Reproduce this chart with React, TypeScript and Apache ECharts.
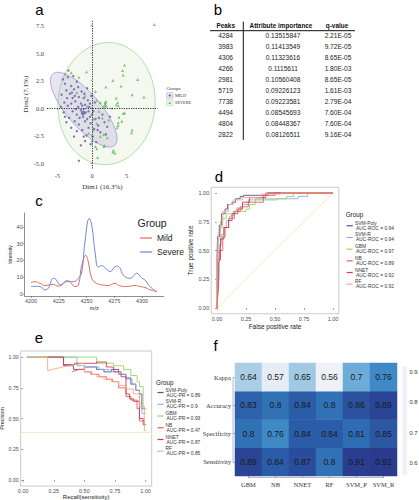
import React, { useEffect, useRef } from 'react';
import * as echarts from 'echarts';

// ---------------- Panel a : PCA ----------------
const mildPoints: number[][] = [
  [-4.2, 2.6], [-3.9, 2.2], [-3.5, 2.8], [-3.0, 2.0], [-3.7, 1.6], [-4.4, 1.2], [-3.2, 1.3], [-2.6, 1.7], [-2.2, 2.4], [-2.8, 0.9],
  [-4.0, 0.5], [-3.5, 0.2], [-3.0, 0.4], [-2.4, 0.6], [-1.9, 1.0], [-1.5, 1.5], [-1.2, 0.9], [-2.0, 0.1], [-1.6, -0.2], [-1.0, 0.3],
  [-0.6, 0.7], [-0.4, 0.1], [-0.9, -0.4], [-1.3, -0.8], [-2.2, -0.6], [-2.8, -0.3], [-3.3, -0.9], [-4.1, -0.4], [-3.7, -1.3], [-2.5, -1.2],
  [-1.9, -1.5], [-1.0, -1.2], [-0.3, -0.8], [0.2, -0.3], [0.5, -1.0], [0.9, -1.6], [0.3, -1.9], [-0.5, -1.8], [-1.4, -2.0], [-2.2, -2.1],
  [-3.0, -1.8], [-0.8, -2.5], [0.1, -2.6], [1.2, -2.2], [1.8, -1.3], [1.5, -0.6], [2.0, -2.4], [0.6, -3.1], [-0.2, -3.3], [-1.0, -3.0],
  [0.4, 0.5], [-0.1, 1.1], [-0.7, 1.8], [-2.7, 2.9], [-3.4, 3.4], [-1.6, 0.4], [-2.3, -0.1], [-1.2, -0.1], [-0.5, -0.3], [-1.8, -0.9],
  [-2.9, 1.4], [-3.9, -0.8], [-4.5, 0.1], [-2.0, 1.9], [-0.2, -1.4], [1.0, -0.9], [2.6, -0.8], [2.2, -1.7], [-1.9, -4.8], [-1.2, -2.6],
  [-2.6, -2.6], [-1.6, -3.4], [0.8, -2.0], [-0.3, 0.4], [-1.1, 1.3], [-3.6, 0.9], [-2.5, 1.1], [-1.4, 0.2], [0.0, -0.6], [-0.7, -1.0],
];
const severePoints: number[][] = [
  [9.0, 7.6], [4.7, 3.9], [4.4, 3.4], [4.5, 3.0], [3.0, 2.5], [6.6, 2.6], [4.2, 2.0], [5.8, 1.2], [7.5, 1.0], [3.7, 0.5],
  [3.5, 0.3], [4.7, -0.45], [3.9, -0.85], [4.3, -1.2], [3.75, -1.6], [5.8, -2.0], [3.1, -3.85], [1.7, -3.5], [0.8, -4.5], [-0.8, 3.3],
  [-3.0, 3.2], [-1.9, 2.8], [0.7, 0.7], [1.2, 0.5], [1.9, 0.5], [1.0, -0.3], [1.5, -0.9], [2.4, -1.1], [1.7, -2.4], [2.2, -2.7],
  [0.5, -3.5], [-1.0, 1.1], [-2.2, 1.4], [-0.7, 0.15], [0.2, -1.0], [2.9, 0.0], [3.5, 0.9], [0.7, -1.4], [0.2, -2.0], [-0.5, -2.3],
  [0.0, -3.0], [3.0, -4.0], [5.7, -2.25], [2.0, 1.9], [0.5, 1.5], [2.0, 0.6], [1.2, -2.6], [1.8, -3.4], [0.7, -3.7], [3.3, -4.1],
  [-3.9, 3.1], [3.8, 0.2], [4.5, -0.5], [3.8, -1.35], [3.6, -1.8],
];
const mildCentroid = [-1.3, -0.45];
const severeCentroid = [1.9, 0.27];
// ellipse: centre x, centre y, conjugate semi-axis a (x, y), conjugate semi-axis b (x, y)
const mildEllipse = [-1.2, -0.15, 4.45, -3.25, 1.82, 0.99];
const severeEllipse = [2.1, 0.4, 0.5, 5.55, 7.0, -0.2];
const pcaXTicks = [-5, 0, 5];
const pcaYTicks = [-5, -2.5, 0, 2.5, 5, 7.5];

// ---------------- Panel b : table ----------------
const tableHeader = ['Peaks', 'Attribute importance', 'q-value'];
const peaks = ['4284', '3983', '4306', '4266', '2981', '5719', '7738', '4494', '4804', '2822'];
const importance = ['0.13515847', '0.11413549', '0.11323616', '0.1115611', '0.10560408', '0.09226123', '0.09223581', '0.08545693', '0.08448367', '0.08126511'];
const qValues = ['2.21E-05', '9.72E-05', '8.65E-05', '1.80E-03', '8.65E-05', '1.61E-03', '2.79E-04', '7.60E-04', '7.60E-04', '9.16E-04'];

// ---------------- Panel c : spectra ----------------
const mzSevere: number[][] = [
  [4200, 4.4], [4203.6, 4.5], [4208, 4.4], [4212.6, 2.4], [4215.6, 3.4], [4220, 9.3], [4223, 8.3], [4226, 5.3], [4229, 6.1],
  [4232, 7.3], [4238, 7.3], [4242.6, 9.3], [4245.7, 13], [4248.6, 31], [4252.5, 45], [4254.7, 41], [4257.7, 25], [4260.6, 16],
  [4263.7, 16.8], [4266.7, 15.6], [4271, 13.3], [4277, 16.6], [4280, 15.6], [4283, 11.3], [4289, 9.3], [4292, 10.3],
  [4295, 12.3], [4300, 9.3], [4302.7, 8.3], [4307, 4.5], [4313.5, 1.2],
];
const mzMild: number[][] = [
  [4200, 6.7], [4203.6, 7.3], [4208, 6.3], [4212.6, 5.0], [4220, 5.7], [4224.6, 4.6], [4227.7, 5.3], [4232, 7.9], [4235, 7.3],
  [4239.6, 4.4], [4242.6, 5.3], [4245.7, 17], [4249.3, 23], [4251.6, 19], [4254.7, 9.3], [4259, 6.3], [4265, 5.3], [4269.6, 5.0],
  [4275.7, 6.3], [4280, 4.8], [4286, 4.4], [4293.7, 5.0], [4298, 4.4], [4302.7, 3.8], [4307, 2.5], [4313.5, 1.5],
];
const mzTicks = [4200, 4225, 4250, 4275, 4300];
const intensityTicks = [0, 10, 20, 30, 40];
const spectraGroups = ['Mild', 'Severe'];

// ---------------- Panels d / e : ROC and PR ----------------
const modelNames = ['SVM-Poly', 'SVM-R', 'GBM', 'NB', 'NNET', 'RF'];
const rocAuc = ['0.94', '0.94', '0.97', '0.89', '0.92', '0.92'];
const prAuc = ['0.89', '0.9', '0.93', '0.47', '0.87', '0.85'];
const rateTicks = [0, 0.25, 0.5, 0.75, 1];

const rocSvmPoly = [[0, 0], [0, 0.44], [0.005, 0.44], [0.005, 0.62], [0.02, 0.62], [0.02, 0.72], [0.04, 0.72], [0.04, 0.82], [0.07, 0.82], [0.07, 0.86], [0.09, 0.86], [0.09, 0.9], [0.13, 0.9], [0.13, 0.92], [0.16, 0.92], [0.16, 0.95], [0.2, 0.95], [0.2, 0.97], [0.23, 0.97], [0.23, 0.98], [0.44, 0.98], [0.44, 1], [1, 1]];
const rocSvmR = [[0, 0], [0.02, 0.3], [0.02, 0.55], [0.04, 0.55], [0.04, 0.64], [0.06, 0.64], [0.06, 0.7], [0.08, 0.7], [0.08, 0.76], [0.11, 0.76], [0.11, 0.8], [0.14, 0.8], [0.14, 0.84], [0.17, 0.84], [0.17, 0.87], [0.22, 0.87], [0.22, 0.9], [0.27, 0.9], [0.27, 0.94], [0.52, 0.94], [0.52, 0.95], [0.7, 0.95], [0.7, 0.97], [0.78, 0.97], [0.78, 1], [1, 1]];
const rocGbm = [[0, 0], [0, 0.33], [0.01, 0.33], [0.01, 0.6], [0.03, 0.6], [0.03, 0.7], [0.05, 0.7], [0.05, 0.78], [0.08, 0.78], [0.08, 0.82], [0.15, 0.82], [0.15, 0.84], [0.25, 0.84], [0.25, 0.86], [0.28, 0.86], [0.28, 0.9], [0.33, 0.9], [0.33, 0.95], [0.6, 0.95], [0.6, 0.97], [0.66, 0.97], [0.66, 1], [1, 1]];
const rocNb = [[0, 0], [0.01, 0.2], [0.01, 0.4], [0.02, 0.4], [0.02, 0.5], [0.05, 0.5], [0.05, 0.62], [0.07, 0.62], [0.07, 0.7], [0.1, 0.7], [0.1, 0.78], [0.15, 0.78], [0.15, 0.84], [0.2, 0.84], [0.2, 0.88], [0.27, 0.88], [0.27, 0.92], [0.4, 0.92], [0.4, 0.98], [0.5, 0.98], [0.5, 1], [1, 1]];
const rocNnet = [[0, 0], [0.01, 0.2], [0.01, 0.42], [0.03, 0.42], [0.03, 0.6], [0.06, 0.6], [0.06, 0.7], [0.1, 0.7], [0.1, 0.76], [0.13, 0.76], [0.13, 0.82], [0.18, 0.82], [0.18, 0.86], [0.22, 0.86], [0.22, 0.92], [0.28, 0.92], [0.28, 0.96], [0.42, 0.96], [0.42, 1], [1, 1]];
const rocRf = [[0, 0], [0, 0.4], [0.01, 0.4], [0.01, 0.66], [0.03, 0.66], [0.03, 0.76], [0.05, 0.76], [0.05, 0.84], [0.1, 0.84], [0.1, 0.9], [0.14, 0.9], [0.14, 0.94], [0.22, 0.94], [0.22, 0.96], [0.38, 0.96], [0.38, 0.99], [0.55, 0.99], [0.55, 1], [1, 1]];
const rocChance = [[0, 0], [1, 1]];

const prSvmPoly = [[0.03, 1], [0.33, 1], [0.33, 0.93], [0.41, 0.93], [0.41, 0.9], [0.5, 0.9], [0.5, 0.92], [0.6, 0.92], [0.6, 0.9], [0.66, 0.9], [0.66, 0.88], [0.72, 0.88], [0.72, 0.9], [0.78, 0.9], [0.78, 0.86], [0.84, 0.86], [0.84, 0.83], [0.88, 0.83], [0.88, 0.78], [0.92, 0.78], [0.92, 0.73], [0.95, 0.73], [0.95, 0.7], [0.97, 0.7], [0.97, 0.58], [1, 0.58]];
const prSvmR = [[0.03, 1], [0.44, 1], [0.44, 0.93], [0.5, 0.93], [0.5, 0.92], [0.62, 0.92], [0.62, 0.9], [0.7, 0.9], [0.7, 0.88], [0.78, 0.88], [0.78, 0.86], [0.84, 0.86], [0.84, 0.82], [0.89, 0.82], [0.89, 0.78], [0.92, 0.78], [0.92, 0.73], [0.95, 0.73], [0.95, 0.62], [0.97, 0.62], [0.97, 0.54], [1, 0.54]];
const prGbm = [[0.03, 1], [0.6, 1], [0.6, 0.95], [0.74, 0.95], [0.74, 0.93], [0.82, 0.93], [0.82, 0.9], [0.88, 0.9], [0.88, 0.85], [0.93, 0.85], [0.93, 0.8], [0.95, 0.8], [0.95, 0.76], [0.98, 0.76], [0.98, 0.58], [1, 0.58]];
const prNb = [[0.4, 0.88], [0.46, 0.9], [0.5, 0.9], [0.5, 0.88], [0.56, 0.88], [0.56, 0.86], [0.62, 0.86], [0.62, 0.84], [0.68, 0.84], [0.68, 0.82], [0.73, 0.82], [0.73, 0.8], [0.78, 0.8], [0.78, 0.75], [0.84, 0.75], [0.84, 0.68], [0.88, 0.68], [0.88, 0.65], [0.93, 0.65], [0.93, 0.58], [0.95, 0.58], [0.95, 0.48], [0.99, 0.48], [0.99, 0.45], [1, 0.45]];
const prNnet = [[0.2, 1], [0.33, 1], [0.33, 0.94], [0.42, 0.94], [0.42, 0.95], [0.6, 0.95], [0.6, 0.96], [0.68, 0.96], [0.68, 0.92], [0.74, 0.92], [0.74, 0.88], [0.8, 0.88], [0.8, 0.84], [0.84, 0.84], [0.84, 0.7], [0.87, 0.7], [0.87, 0.66], [0.9, 0.66], [0.9, 0.64], [0.95, 0.64], [0.95, 0.5], [0.98, 0.5], [0.98, 0.45], [1, 0.45]];
const prRf = [[0.03, 1], [0.2, 1], [0.2, 0.89], [0.3, 0.915], [0.4, 0.935], [0.5, 0.95], [0.5, 0.88], [0.55, 0.88], [0.55, 0.86], [0.6, 0.86], [0.6, 0.84], [0.66, 0.84], [0.66, 0.82], [0.72, 0.82], [0.72, 0.8], [0.78, 0.8], [0.78, 0.77], [0.84, 0.77], [0.84, 0.74], [0.9, 0.74], [0.9, 0.7], [0.95, 0.7], [0.95, 0.6], [0.99, 0.6], [0.99, 0.4], [1, 0.4]];
const prBaseline = 0.39;

// ---------------- Panel f : heatmap ----------------
const hmCols = ['GBM', 'NB', 'NNET', 'RF', 'SVM_P', 'SVM_R'];
const hmRows = ['Sensitivity', 'Specificity', 'Accuracy', 'Kappa']; // bottom -> top
const kappa = [0.64, 0.57, 0.65, 0.56, 0.7, 0.76];
const accuracy = [0.83, 0.8, 0.84, 0.8, 0.86, 0.89];
const specificity = [0.8, 0.76, 0.84, 0.84, 0.81, 0.85];
const sensitivity = [0.89, 0.84, 0.87, 0.8, 0.91, 0.92];
const colorbarTicks = [0.6, 0.7, 0.8, 0.9];
const hmMin = 0.56;
const hmMax = 0.92;

// ---------------- styling ----------------
const SANS = '"Liberation Sans", Arial, sans-serif';
const SERIF = '"Liberation Serif", "Times New Roman", serif';
const modelColors = ['#5A4A9E', '#8DB0E2', '#9ED36A', '#F0595C', '#C8414E', '#FCA886'];
const blues = ['#EEF1F8', '#C8DCEF', '#93C2E0', '#5EA3D3', '#3A86C4', '#2C68B0', '#2A4D9C', '#2A3A8C'];
const mildColor = '#6A55A8';
const severeColor = '#5DBB63';

const G = {
  a: { left: 47, top: 20, width: 110.8, height: 148.5 },
  c: { left: 24.7, top: 213, width: 139.2, height: 83 },
  d: { left: 211.2, top: 187.25, width: 127.6, height: 126.5 },
  e: { left: 20.7, top: 351, width: 131, height: 135 },
  f: { left: 235, top: 363, width: 162, height: 113 },
};

function ellipseRenderer(fill: string, stroke: string) {
  return (_p: any, api: any) => {
    const cx = api.value(0), cy = api.value(1), ax = api.value(2), ay = api.value(3), bx = api.value(4), by = api.value(5);
    const pts: number[][] = [];
    for (let i = 0; i < 90; i++) {
      const t = (i / 90) * Math.PI * 2;
      pts.push(api.coord([cx + ax * Math.cos(t) + bx * Math.sin(t), cy + ay * Math.cos(t) + by * Math.sin(t)]));
    }
    return { type: 'polygon', shape: { points: pts }, style: { fill, stroke, lineWidth: 0.8 } };
  };
}

function numAxis(gi: number, min: number, max: number, ticks: number[], fmt: (v: number) => string, extra: any = {}) {
  return {
    gridIndex: gi, type: 'value', min, max,
    splitLine: { show: false },
    axisLine: { show: false },
    axisTick: { show: true, length: 2, customValues: ticks, lineStyle: { color: '#666', width: 0.6 } },
    axisLabel: { customValues: ticks, formatter: fmt, fontFamily: SANS, fontSize: 5.5, color: '#4D4D4D', margin: 2 },
    nameLocation: 'middle',
    nameTextStyle: { fontFamily: SANS, fontSize: 6.5, color: '#222' },
    ...extra,
  };
}

function txt(x: number, y: number, text: string, size: number, opts: any = {}) {
  return {
    type: 'text', x, y, silent: true,
    style: { text, fontSize: size, fontFamily: opts.family || SANS, fontWeight: opts.weight || 'normal', fill: opts.fill || '#222', align: opts.align || 'left', verticalAlign: 'middle' },
  };
}

function buildOption() {
  const rocSets = [rocSvmPoly, rocSvmR, rocGbm, rocNb, rocNnet, rocRf];
  const prSets = [prSvmPoly, prSvmR, prGbm, prNb, prNnet, prRf];

  const series: any[] = [];
  // a
  series.push({ type: 'custom', xAxisIndex: 0, yAxisIndex: 0, renderItem: ellipseRenderer('rgba(226,236,210,0.35)', '#9DD59A'), data: [severeEllipse], silent: true, z: 1 });
  series.push({ type: 'custom', xAxisIndex: 0, yAxisIndex: 0, renderItem: ellipseRenderer('rgba(160,150,205,0.25)', '#A597CF'), data: [mildEllipse], silent: true, z: 2 });
  series.push({ type: 'scatter', xAxisIndex: 0, yAxisIndex: 0, data: mildPoints, symbol: 'circle', symbolSize: 2.4, itemStyle: { color: mildColor }, silent: true, z: 3 });
  series.push({ type: 'scatter', xAxisIndex: 0, yAxisIndex: 0, data: severePoints, symbol: 'triangle', symbolSize: 3, itemStyle: { color: severeColor }, silent: true, z: 3 });
  series.push({ type: 'scatter', xAxisIndex: 0, yAxisIndex: 0, data: [mildCentroid], symbol: 'circle', symbolSize: 4.5, itemStyle: { color: mildColor }, silent: true, z: 4 });
  series.push({
    type: 'scatter', xAxisIndex: 0, yAxisIndex: 0, data: [severeCentroid], symbol: 'triangle', symbolSize: 5.5, itemStyle: { color: severeColor }, silent: true, z: 4,
    markLine: { silent: true, symbol: 'none', label: { show: false }, lineStyle: { type: [1.2, 1.2], color: '#333', width: 1 }, data: [{ xAxis: 0 }, { yAxis: 0 }] },
  });
  // c
  series.push({ type: 'line', xAxisIndex: 1, yAxisIndex: 1, data: mzMild, smooth: 0.45, symbol: 'none', lineStyle: { color: '#E26A62', width: 1 }, silent: true });
  series.push({ type: 'line', xAxisIndex: 1, yAxisIndex: 1, data: mzSevere, smooth: 0.45, symbol: 'none', lineStyle: { color: '#7384D4', width: 1 }, silent: true });
  // d
  series.push({ type: 'line', xAxisIndex: 2, yAxisIndex: 2, data: rocChance, symbol: 'none', lineStyle: { color: '#F3E5B5', width: 0.8 }, silent: true });
  rocSets.forEach((d, i) => series.push({ type: 'line', xAxisIndex: 2, yAxisIndex: 2, data: d, symbol: 'none', lineStyle: { color: modelColors[i], width: 0.9 }, silent: true }));
  // e
  prSets.forEach((d, i) => series.push({
    type: 'line', xAxisIndex: 3, yAxisIndex: 3, data: d, symbol: 'none', lineStyle: { color: modelColors[i], width: 0.9 }, silent: true,
    ...(i === 0 ? { markLine: { silent: true, symbol: 'none', label: { show: false }, lineStyle: { type: 'solid', color: '#FBE8C8', width: 1 }, data: [{ yAxis: prBaseline }] } } : {}),
  }));
  // f
  const hmData: any[] = [];
  const rowsVals = [sensitivity, specificity, accuracy, kappa];
  rowsVals.forEach((row, yi) => row.forEach((v, xi) => hmData.push([xi, yi, v])));
  const hmIndex = series.length;
  series.push({
    type: 'heatmap', xAxisIndex: 4, yAxisIndex: 4, data: hmData, silent: true,
    label: { show: true, formatter: (p: any) => String(p.value[2]), fontFamily: SANS, fontSize: 8.5, color: '#1A1A1A' },
  });

  const graphics: any[] = [];
  // panel letters
  graphics.push(txt(39.5, 9, 'a', 15, { align: 'center', fill: '#000' }));
  graphics.push(txt(218, 9, 'b', 15, { align: 'center', fill: '#000' }));
  graphics.push(txt(39, 200.5, 'c', 15, { align: 'center', fill: '#000' }));
  graphics.push(txt(219, 176.5, 'd', 15, { align: 'center', fill: '#000' }));
  graphics.push(txt(39, 337.5, 'e', 15, { align: 'center', fill: '#000' }));
  graphics.push(txt(215.5, 345, 'f', 15, { align: 'center', fill: '#000' }));

  // panel a legend
  graphics.push(txt(166.5, 88.3, 'Groups', 4.8, { family: SERIF, fill: '#333' }));
  graphics.push({ type: 'rect', shape: { x: 166.7, y: 92.7, width: 6, height: 5.6 }, style: { fill: '#ECE9F4', stroke: '#A597CF', lineWidth: 0.5 }, silent: true });
  graphics.push({ type: 'circle', shape: { cx: 169.7, cy: 95.5, r: 1.1 }, style: { fill: mildColor }, silent: true });
  graphics.push({ type: 'rect', shape: { x: 166.7, y: 100, width: 6, height: 5.6 }, style: { fill: '#F3F8EE', stroke: '#9DD59A', lineWidth: 0.5 }, silent: true });
  graphics.push({ type: 'polygon', shape: { points: [[169.7, 101.5], [171.1, 103.9], [168.3, 103.9]] }, style: { fill: severeColor }, silent: true });
  graphics.push(txt(175, 95.5, 'MILD', 4.3, { family: SERIF, fill: '#333' }));
  graphics.push(txt(175, 102.8, 'SEVERE', 4.3, { family: SERIF, fill: '#333' }));

  // panel b table
  const colX = [225.7, 281, 337];
  const headerY = 25.7;
  tableHeader.forEach((h, i) => graphics.push(txt(colX[i], headerY, h, 6.4, { align: 'center', weight: 'bold', fill: '#111' })));
  const rowY0 = 35.8, rowStep = 10.95;
  peaks.forEach((p, r) => {
    const y = rowY0 + r * rowStep;
    graphics.push(txt(colX[0], y, p, 6.6, { align: 'center', fill: '#222' }));
    graphics.push(txt(colX[1] + 2, y, importance[r], 6.6, { align: 'center', fill: '#222' }));
    graphics.push(txt(colX[2] + 1, y, qValues[r], 6.6, { align: 'center', fill: '#222' }));
  });
  graphics.push({ type: 'line', shape: { x1: 210, y1: 30.7, x2: 355, y2: 30.7 }, style: { stroke: '#111', lineWidth: 1 }, silent: true });
  graphics.push({ type: 'line', shape: { x1: 243.3, y1: 21.7, x2: 243.3, y2: 140 }, style: { stroke: '#111', lineWidth: 1 }, silent: true });

  // panel c legend
  graphics.push(txt(137.5, 223, 'Group', 10.5, { fill: '#222' }));
  const cColors = ['#E26A62', '#7384D4'];
  spectraGroups.forEach((g, i) => {
    const y = 238 + i * 14;
    graphics.push({ type: 'line', shape: { x1: 140, y1: y, x2: 152, y2: y }, style: { stroke: cColors[i], lineWidth: 1.2 }, silent: true });
    graphics.push(txt(157, y, g, 8.5, { fill: '#222' }));
  });

  // panel d legend
  graphics.push(txt(345.7, 214.3, 'Group', 6.3, { fill: '#222' }));
  modelNames.forEach((m, i) => {
    const y1 = 223.3 + i * 11.68;
    graphics.push({ type: 'line', shape: { x1: 346.7, y1: y1 + 2.5, x2: 352.7, y2: y1 + 2.5 }, style: { stroke: modelColors[i], lineWidth: 1.2 }, silent: true });
    graphics.push(txt(355, y1, m, 4.9, { fill: '#333' }));
    graphics.push(txt(356, y1 + 5, 'AUC-ROC = ' + rocAuc[i], 4.9, { fill: '#333' }));
  });

  // panel e legend
  graphics.push(txt(156, 382.3, 'Group', 6.3, { fill: '#222' }));
  modelNames.forEach((m, i) => {
    const y1 = 390 + i * 11.75;
    graphics.push({ type: 'line', shape: { x1: 157.5, y1: y1 + 2.5, x2: 163.5, y2: y1 + 2.5 }, style: { stroke: modelColors[i], lineWidth: 1.2 }, silent: true });
    graphics.push(txt(165.5, y1, m, 4.9, { fill: '#333' }));
    graphics.push(txt(166.5, y1 + 5, 'AUC-PR = ' + prAuc[i], 4.9, { fill: '#333' }));
  });

  // panel f spines and colorbar
  const cw = G.f.width / hmCols.length, ch = G.f.height / hmRows.length;
  graphics.push({ type: 'line', shape: { x1: G.f.left - 2, y1: G.f.top + ch / 2, x2: G.f.left - 2, y2: G.f.top + G.f.height - ch / 2 }, style: { stroke: '#AAA', lineWidth: 0.8 }, silent: true });
  graphics.push({ type: 'line', shape: { x1: G.f.left + cw / 2, y1: G.f.top + G.f.height + 1.5, x2: G.f.left + G.f.width - cw / 2, y2: G.f.top + G.f.height + 1.5 }, style: { stroke: '#AAA', lineWidth: 0.8 }, silent: true });
  const cb = { x: 402.5, y: 366, w: 4.5, h: 109 };
  const stops = blues.map((c, i) => ({ offset: 1 - i / (blues.length - 1), color: c }));
  graphics.push({ type: 'rect', shape: { x: cb.x, y: cb.y, width: cb.w, height: cb.h }, style: { fill: new echarts.graphic.LinearGradient(0, 0, 0, 1, stops) }, silent: true });
  colorbarTicks.forEach((v) => {
    const y = cb.y + ((hmMax - v) / (hmMax - hmMin)) * cb.h;
    graphics.push(txt(cb.x + cb.w + 2.5, y, v.toFixed(1), 5.8, { fill: '#333' }));
  });

  const grids = [G.a, G.c, G.d, G.e, G.f].map((g, i) => ({
    ...g, outerBoundsMode: 'none', containLabel: false,
    show: i === 2 || i === 3, borderColor: '#BDBDBD', borderWidth: 0.8, backgroundColor: 'transparent',
  }));

  const f2 = (v: number) => v.toFixed(2);
  return {
    animation: false,
    backgroundColor: '#fff',
    grid: grids,
    xAxis: [
      numAxis(0, -6.5, 9.5, pcaXTicks, (v: number) => String(v), {
        axisLabel: { customValues: pcaXTicks, fontFamily: SERIF, fontSize: 6.5, color: '#444', margin: 3 },
        axisTick: { show: true, length: 1.5, customValues: pcaXTicks, lineStyle: { color: '#444', width: 0.6 } },
        name: 'Dim1 (16.3%)', nameGap: 15, nameTextStyle: { fontFamily: SERIF, fontSize: 7, color: '#333' },
      }),
      numAxis(1, 4194.3, 4319.7, mzTicks, (v: number) => String(v), {
        axisLine: { show: true, onZero: false, lineStyle: { color: '#444', width: 0.6 } },
        name: 'm/z', nameGap: 8.5, nameTextStyle: { fontFamily: SANS, fontSize: 5.5, color: '#222' },
      }),
      numAxis(2, -0.05, 1.05, rateTicks, f2, { name: 'False positive rate', nameGap: 9.5 }),
      numAxis(3, -0.02, 1.05, rateTicks, f2, {
        axisLabel: { customValues: rateTicks, formatter: f2, fontFamily: SANS, fontSize: 5.5, color: '#4D4D4D', margin: 1.5 },
        name: 'Recall(sensitivity)', nameGap: 6.5, nameTextStyle: { fontFamily: SANS, fontSize: 6, color: '#222' },
      }),
      {
        gridIndex: 4, type: 'category', data: hmCols,
        axisLine: { show: false }, splitLine: { show: false },
        axisTick: { show: true, length: 2, alignWithLabel: true, interval: 0, lineStyle: { color: '#AAA' } },
        axisLabel: { interval: 0, fontFamily: SERIF, fontSize: 6.5, color: '#333', margin: 5 },
      },
    ],
    yAxis: [
      numAxis(0, -5.5, 8, pcaYTicks, (v: number) => v.toFixed(1), {
        axisLabel: { customValues: pcaYTicks, formatter: (v: number) => v.toFixed(1), fontFamily: SERIF, fontSize: 6.5, color: '#444', margin: 3 },
        axisTick: { show: true, length: 1.5, customValues: pcaYTicks, lineStyle: { color: '#444', width: 0.6 } },
        name: 'Dim2 (7.1%)', nameGap: 16, nameTextStyle: { fontFamily: SERIF, fontSize: 7, color: '#333' },
      }),
      numAxis(1, -1.25, 48.25, intensityTicks, (v: number) => String(v), {
        axisLine: { show: true, onZero: false, lineStyle: { color: '#444', width: 0.6 } },
        name: 'Intensity', nameGap: 8, nameTextStyle: { fontFamily: SANS, fontSize: 5, color: '#222' },
      }),
      numAxis(2, -0.05, 1.05, rateTicks, f2, { name: 'True positive rate', nameGap: 17 }),
      numAxis(3, -0.05, 1.05, rateTicks, f2, {
        axisLabel: { customValues: rateTicks, formatter: f2, fontFamily: SANS, fontSize: 5.2, color: '#4D4D4D', margin: 2 },
        name: 'Precision', nameGap: 12, nameTextStyle: { fontFamily: SANS, fontSize: 5.5, color: '#222' },
      }),
      {
        gridIndex: 4, type: 'category', data: hmRows,
        axisLine: { show: false }, splitLine: { show: false },
        axisTick: { show: true, length: 2, alignWithLabel: true, interval: 0, lineStyle: { color: '#AAA' } },
        axisLabel: { interval: 0, fontFamily: SERIF, fontSize: 6.5, color: '#333', margin: 4 },
      },
    ],
    visualMap: [{ show: false, type: 'continuous', min: hmMin, max: hmMax, seriesIndex: hmIndex, inRange: { color: blues } }],
    series,
    graphic: { elements: graphics },
  };
}

export default function App() {
  const ref = useRef<HTMLDivElement>(null);
  useEffect(() => {
    document.body.style.margin = '0';
    const chart = echarts.init(ref.current as HTMLDivElement, null, { renderer: 'svg', width: 419, height: 500 });
    chart.setOption(buildOption() as any);
    return () => chart.dispose();
  }, []);
  return <div ref={ref} style={{ width: 419, height: 500 }} />;
}
